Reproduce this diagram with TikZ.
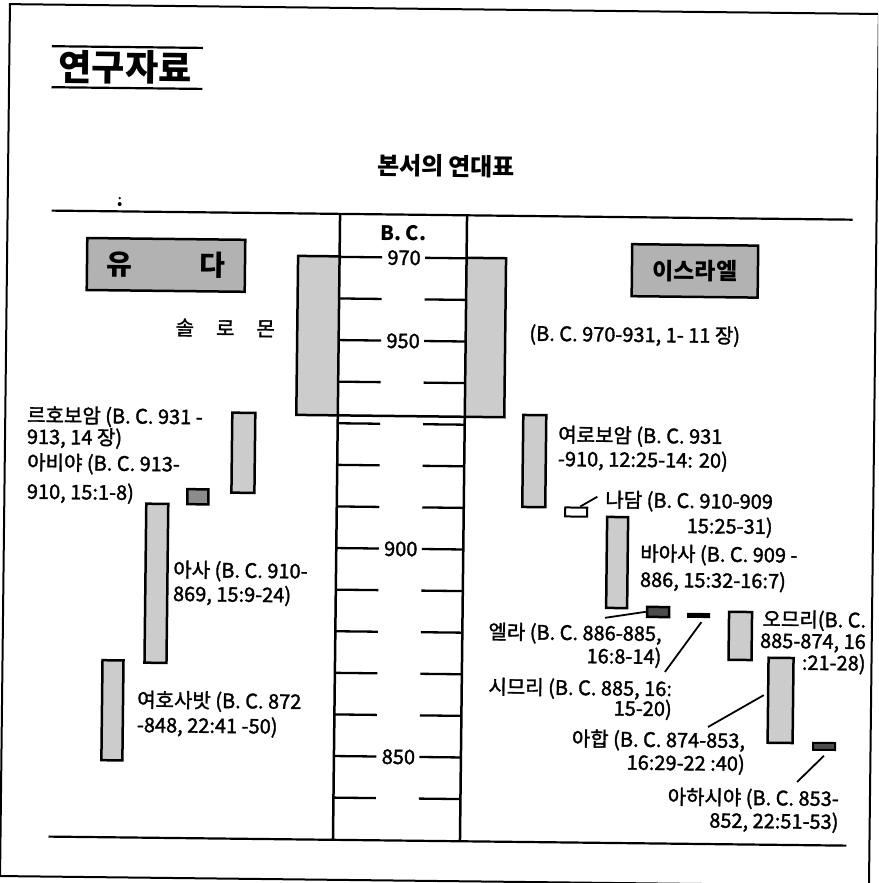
\documentclass[tikz,border=0pt]{standalone}
\usepackage{fontspec}
\setmainfont{Noto Sans CJK KR}
\newfontfamily\lblfont[FakeBold=1.6]{Noto Sans CJK KR}
\usetikzlibrary{calc}
\begin{document}
\begin{tikzpicture}[x=1pt,y=-1pt,
  lbl/.style={font=\lblfont\fontsize{20}{23}\selectfont, inner sep=0pt},
  lblL/.style={lbl, anchor=base west, align=left},
  lblR/.style={lbl, anchor=base east, align=right},
  bar/.style={draw, line width=2.5pt, fill=black!20, inner sep=0pt},
  darkbar/.style={draw, line width=2.5pt, fill=black!70, inner sep=0pt},
  namebox/.style={draw, line width=2.5pt, fill=black!30, inner sep=0pt, font=\bfseries},
  ticknum/.style={font=\lblfont\fontsize{20}{23}\selectfont, inner sep=0pt, anchor=base},
  tickln/.style={line width=2.3pt},
  rule/.style={line width=2.2pt},
  conn/.style={line width=1.8pt}]
\clip (0,0) rectangle (878,883);
\useasboundingbox (0,0) rectangle (878,883);
\fill[white] (0,0) rectangle (878,883);
\begin{scope}[rotate around={-0.65:(439,441)}, transform shape]
% frame
\draw[line width=2pt] (5,9) rectangle (874,881);
% title
\draw[rule] (47.5,50.6) -- (198.5,50.6);
\draw[rule] (47.5,91.6) -- (198.5,91.6);
\node[font=\fontsize{36}{40}\selectfont\bfseries, inner sep=0pt] (title) at (121,71) {연구자료};
\node[font=\fontsize{24}{28}\selectfont\bfseries, inner sep=0pt] (subtitle) at (443,166) {본서의 연대표};
\fill (117,201.7) circle (1.3pt);
\fill (117,207.7) circle (2pt);
% main rules
\draw[rule] (49,215) -- (850,215);
\draw[rule] (53,841) -- (851,841);
% Solomon block
\fill[black!20] (296,257.5) rectangle (337.5,416.5);
\fill[black!20] (464.5,257.5) rectangle (504,416.5);
\draw[line width=2.5pt] (337.5,257.5) -- (296,257.5) -- (296,416.5) -- (504,416.5) -- (504,257.5) -- (464.5,257.5);
% column
\draw[line width=2.5pt] (337.5,215) -- (337.5,841);
\draw[line width=2.5pt] (464.5,215) -- (464.5,841);
\foreach \yr in {970,960,...,840}{
  \pgfmathsetmacro{\yy}{258+(970-\yr)*4.16}
  \draw[tickln] (337.5,\yy) -- (380,\yy);
  \draw[tickln] (423,\yy) -- (464.5,\yy);
}
\node[ticknum, font=\fontsize{20}{23}\selectfont\bfseries] (bc) at (401,240.7) {B. C.};
\node[ticknum] (t970) at (402,265.3) {970};
\node[ticknum] (t950) at (402,348.5) {950};
\node[ticknum] (t900) at (402,556.5) {900};
\node[ticknum] (t850) at (402,764.5) {850};
% kingdom boxes
\node[namebox, minimum width=158pt, minimum height=52pt, font=\fontsize{28}{30}\selectfont\bfseries] (judah) at (164,268) {유\hspace{2.4em}다};
\node[namebox, minimum width=126pt, minimum height=52pt, font=\fontsize{23}{26}\selectfont\bfseries] (israel) at (693,268) {이스라엘};
\node[lbl, anchor=base] (solomon) at (224,338) {솔\hspace{1.1em}로\hspace{1.1em}몬};
\node[lblL] (solrange) at (528,339.7) {(B. C. 970-931, 1- 11 장)};
% Judah kings
\node[bar, minimum width=23pt, minimum height=80pt] (reh) at (243.5,455) {};
\node[lblL] (rehL) at (26.7,448.5) {르호보암 (B. C. 931 -\\[-1.5pt]913, 14 장)};
\node[darkbar, fill=black!45, minimum width=21pt, minimum height=15pt] (abi) at (198.5,499.5) {};
\node[lblL] (abiL) at (27.3,503.4) {아비야 (B. C. 913-\\[6pt]910, 15:1-8)};
\node[bar, minimum width=22pt, minimum height=159pt] (asa) at (158,586.5) {};
\node[lblL] (asaL) at (174.6,604) {아사 (B. C. 910-\\[1pt]869, 15:9-24)};
\node[bar, minimum width=21pt, minimum height=100pt] (jeh) at (115.5,714) {};
\node[lblL] (jehL) at (140,735.5) {여호사밧 (B. C. 872\\[2pt]-848, 22:41 -50)};
% Israel kings
\node[bar, minimum width=23pt, minimum height=92pt] (jer) at (534.5,460) {};
\node[lblL] (jerL) at (558,464.7) {여로보암 (B. C. 931\\[1pt]-910, 12:25-14: 20)};
\node[draw, line width=2pt, fill=white, inner sep=0pt, minimum width=22pt, minimum height=9pt] (nad) at (577,510.5) {};
\node[lblR] (nadL) at (773.8,530.2) {나담 (B. C. 910-909\\[2pt]15:25-31)};
\coordinate (nadE) at (598,495);
\draw[conn] ([xshift=4pt]nad.north) -- (nadE);
\node[bar, minimum width=21pt, minimum height=91pt] (baa) at (618.5,560.5) {};
\node[lblL] (baaL) at (641.4,584.5) {바아사 (B. C. 909 -\\[3pt]886, 15:32-16:7)};
\node[darkbar, minimum width=22pt, minimum height=10pt] (ela) at (660,609.5) {};
\node[lblR] (elaL) at (664,661.5) {엘라 (B. C. 886-885,\\[0pt]16:8-14)};
\coordinate (elaE) at (607,616);
\draw[conn] (elaE) -- (ela.west);
\node[fill=black, inner sep=0pt, minimum width=23pt, minimum height=5pt] (zim) at (700.5,612.5) {};
\node[lblR] (zimL) at (675,713.5) {시므리 (B. C. 885, 16:\\[-3pt]15-20)};
\coordinate (zimE) at (667.6,669.4);
\draw[conn] ([xshift=3pt,yshift=-4pt]zim.south) -- (zimE);
\node[bar, minimum width=23pt, minimum height=48pt] (omr) at (742.5,632.5) {};
\node[lblR] (omrL) at (868.3,665.7) {오므리(B. C.\\[-1.5pt]885-874, 16\\[-1.5pt]:21-28)};
\node[bar, minimum width=25pt, minimum height=85pt] (aha) at (783.5,696.5) {};
\node[lblR] (ahaL) at (748.6,767.5) {아합 (B. C. 874-853,\\[0pt]16:29-22 :40)};
\coordinate (ahaE) at (711.3,724);
\draw[conn] ([xshift=-3pt,yshift=5pt]aha.west) -- (ahaE);
\node[darkbar, line width=2pt, minimum width=22pt, minimum height=7pt] (ahz) at (827.5,742) {};
\node[lblR] (ahzL) at (843,824.5) {아하시야 (B. C. 853-\\[0pt]852, 22:51-53)};
\coordinate (ahzE) at (801,778);
\draw[conn] ([yshift=-5pt]ahz.south) -- (ahzE);
\end{scope}
\end{tikzpicture}
\end{document}
